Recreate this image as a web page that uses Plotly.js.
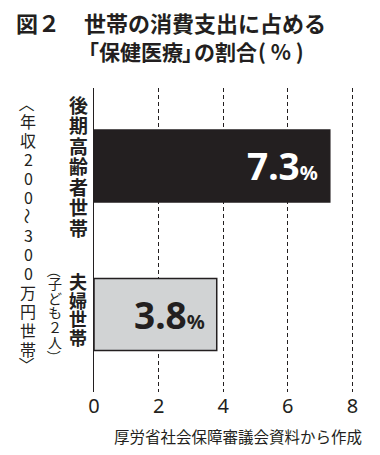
<!DOCTYPE html>
<html>
<head>
<meta charset="utf-8">
<script src="https://cdn.plot.ly/plotly-3.0.1.min.js"></script>
<style>html,body{margin:0;padding:0;background:#fff;}#chart{width:380px;height:455px;}</style>
</head>
<body>
<div id="chart"></div>
<script>
// ---- data ----
const categories = ['後期高齢者世帯', '夫婦世帯'];
const subLabels = ['', '（子ども２人）'];
const values = [7.3, 3.8];
const valueLabels = ['7.3', '3.8'];
const barColors = ['#231f20', '#d1d3d4'];
const valueTextColors = ['#ffffff', '#231f20'];
const xTicks = [0, 2, 4, 6, 8];
const groupLabel = '〈年収200〜300万円世帯〉';
const titlePrefix = '図２';
const titleLine1 = '世帯の消費支出に占める';
const titleLine2 = ['「保健医療', '」', 'の割合', '( % )'];
const sourceText = '厚労省社会保障審議会資料から作成';

// ---- geometry ----
const W = 380, H = 455;
const M = {l: 94, r: 24, t: 88, b: 63};
const PW = W - M.l - M.r, PH = H - M.t - M.b;
const px2x = p => (p - M.l) / PW;
const px2y = p => (H - M.b - p) / PH;
const INK = '#231f20';
const JP = '"Noto Sans CJK JP", "Noto Sans", sans-serif';
const NUM = '"Liberation Sans Narrow", "Noto Sans", sans-serif';

const rotateChars = '〈〉（）〜';
const isBracket = c => '〈〉（）'.includes(c);

const annotations = [];

// vertical text helper (per character)
function vcol(text, opt) {
  const chars = Array.from(text);
  const n = chars.filter(c => !isBracket(c)).length;
  const half = ((n - 1) / 2) * opt.pitch;
  let k = 0;
  chars.forEach((c, idx) => {
    let off;
    if (isBracket(c)) {
      off = idx === 0 ? -half - (opt.gapOpen || 0) : half + (opt.gapClose || 0);
    } else {
      off = (k - (n - 1) / 2) * opt.pitch; k++;
    }
    const a = {
      text: c, showarrow: false, xanchor: 'center', yanchor: 'middle',
      textangle: rotateChars.includes(c) ? 90 : 0,
      font: {family: JP, size: opt.size, color: INK, weight: opt.weight || 'normal'}
    };
    if (opt.cat !== undefined) {
      a.xref = 'x'; a.x = 0; a.xshift = opt.xpx - M.l;
      a.yref = 'y'; a.y = opt.cat; a.yshift = -(opt.dy + off);
    } else {
      a.xref = 'paper'; a.x = px2x(opt.xpx);
      a.yref = 'paper'; a.y = px2y(opt.cy + off);
    }
    annotations.push(a);
  });
}

// category labels
vcol(categories[0], {cat: 0, xpx: 78, dy: 0, pitch: 20.5, size: 19, weight: 'bold'});
vcol(categories[1], {cat: 1, xpx: 78, dy: -5.5, pitch: 18.6, size: 18, weight: 'bold'});
vcol(subLabels[1], {cat: 1, xpx: 55, dy: -2, pitch: 14.8, size: 14, gapOpen: 12, gapClose: 15});
// group label
vcol(groupLabel, {xpx: 28, cy: 235, pitch: 19, size: 16, gapOpen: 17, gapClose: 16});

// value labels
values.forEach((v, i) => {
  annotations.push({
    xref: 'x', yref: 'y', x: v, y: i, xanchor: 'right', yanchor: 'middle',
    xshift: -10, yshift: 0, showarrow: false,
    text: valueLabels[i] + '<span style="font-size:20px">%</span>',
    font: {family: NUM, size: 37, color: valueTextColors[i], weight: 'bold'}
  });
});

// title
const tAnn = (xpx, ypx, text, size) => ({xref: 'paper', yref: 'paper', x: px2x(xpx), y: px2y(ypx), xanchor: 'left', yanchor: 'middle', showarrow: false, text: text, font: {family: JP, size: size, color: INK, weight: 'bold'}});
annotations.push(tAnn(14, 21.5, titlePrefix, 22));
annotations.push(tAnn(82, 21.5, titleLine1, 22));
annotations.push(tAnn(76, 51, titleLine2[0], 21));
annotations.push(tAnn(180, 51, titleLine2[1], 21));
annotations.push(tAnn(192, 51, titleLine2[2], 21));
annotations.push(tAnn(256, 51, titleLine2[3], 21));

// source
annotations.push({xref: 'paper', yref: 'paper', x: px2x(364), y: px2y(436), xanchor: 'right', yanchor: 'middle', showarrow: false, text: sourceText, font: {family: JP, size: 15.5, color: INK}});

const trace = {
  type: 'bar', orientation: 'h',
  x: values, y: categories,
  width: 0.485,
  marker: {color: barColors, line: {color: INK, width: 1.5}},
  hoverinfo: 'none'
};

const layout = {
  width: W, height: H,
  margin: M,
  paper_bgcolor: '#fff', plot_bgcolor: '#fff',
  showlegend: false,
  font: {family: JP, color: INK},
  xaxis: {
    range: [0, 8 * PW / 258.4],
    tickvals: xTicks, ticktext: xTicks.map(String),
    showgrid: true, gridcolor: INK, gridwidth: 1, griddash: '4px,3px',
    zeroline: false, showline: false, ticks: '',
    tickfont: {family: '"Noto Sans", sans-serif', size: 20, color: INK},
    fixedrange: true
  },
  yaxis: {
    type: 'category', range: [1.522, -0.525],
    showgrid: false, zeroline: false, showticklabels: false, ticks: '',
    showline: true, linecolor: INK, linewidth: 1.5,
    fixedrange: true
  },
  annotations: annotations
};

Plotly.newPlot('chart', [trace], layout, {staticPlot: true, displayModeBar: false});
</script>
</body>
</html>
